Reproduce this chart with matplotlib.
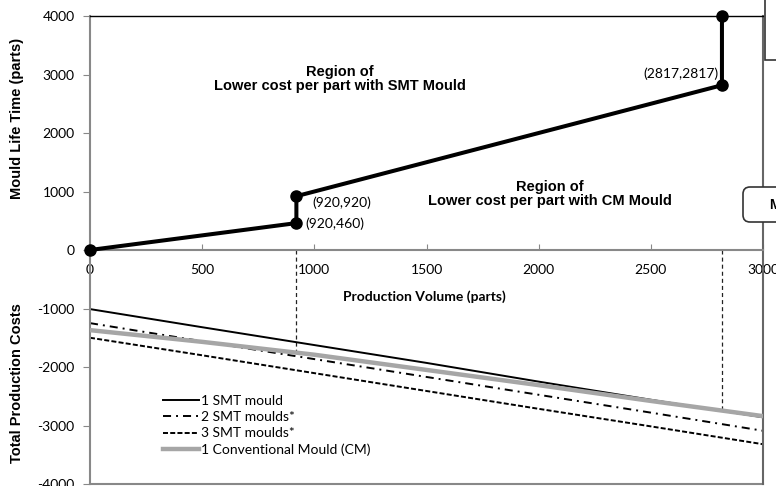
import numpy as np
import matplotlib
matplotlib.use("Agg")
import matplotlib.pyplot as plt
from matplotlib.patches import Rectangle, FancyBboxPatch
from matplotlib.transforms import IdentityTransform

plt.rcParams['lines.scale_dashes'] = False

# Mould life time boundary (top half)
life_x = [0, 920, 920, 2817, 2817]
life_y = [0, 460, 920, 2817, 4000]
point_labels = ["(920,460)", "(920,920)", "(2817,2817)"]

# Total production costs (bottom half, plotted as negatives)
cost_x = [0, 500, 1000, 1500, 2000, 2500, 3000]
smt1 = [-1010, -1320, -1625, -1930, -2250, -2560, -2860]
smt2 = [-1250, -1560, -1865, -2170, -2475, -2780, -3090]
smt3 = [-1500, -1800, -2105, -2410, -2715, -3015, -3320]
cm1 = [-1370, -1570, -1790, -2050, -2310, -2580, -2840]
series_labels = ["1 SMT mould", "2 SMT moulds*", "3 SMT moulds*",
                 "1 Conventional Mould (CM)"]

x_ticks = [0, 500, 1000, 1500, 2000, 2500, 3000]
y_ticks = [4000, 3000, 2000, 1000, 0, -1000, -2000, -3000, -4000]
break_x = [920, 2817]

calibri = "Lato"
arial = "Liberation Sans"

fig = plt.figure(figsize=(7.76, 4.86), dpi=100)
ax = fig.add_axes([90 / 776, 2 / 486, 673 / 776, 468 / 486])
ax.set_xlim(0, 3000)
ax.set_ylim(-4000, 4000)

# cost curves
ax.plot(cost_x, cm1, color="#a6a6a6", lw=3.2, label=series_labels[3], zorder=3)
ax.plot(cost_x, smt1, color="black", lw=1.4, label=series_labels[0], zorder=2)
ax.plot(cost_x, smt2, color="black", lw=1.4, dashes=(5.8, 3.6, 1.4, 3.6),
        label=series_labels[1], zorder=2)
ax.plot(cost_x, smt3, color="black", lw=1.4, dashes=(3.6, 1.6),
        label=series_labels[2], zorder=2)

# dashed drop lines from the axis to the CM curve
for bx in break_x:
    ax.plot([bx, bx], [0, np.interp(bx, cost_x, cm1)], color="#222222",
            lw=0.9, dashes=(2.9, 2.2), zorder=1)

# boundary line
ax.plot(life_x, life_y, color="black", lw=2.9, marker="o", markersize=8,
        clip_on=False, zorder=5)

ax.text(958, 444, point_labels[0], fontsize=10, family=calibri, va="center")
ax.text(990, 800, point_labels[1], fontsize=10, family=calibri, va="center")
ax.text(2800, 3010, point_labels[2], fontsize=10, family=calibri,
        va="center", ha="right")

ax.text(1115, 2920, "Region of\nLower cost per part with SMT Mould",
        fontsize=10.5, family=arial, fontweight="bold", ha="center",
        va="center", linespacing=1.05)
ax.text(2051, 960, "Region of\nLower cost per part with CM Mould",
        fontsize=10.5, family=arial, fontweight="bold", ha="center",
        va="center", linespacing=1.05)

# axes styling
for s in ["left", "right", "bottom"]:
    ax.spines[s].set_color("#888888")
    ax.spines[s].set_linewidth(1.5)
ax.spines["top"].set_color("black")
ax.spines["top"].set_linewidth(1.0)
ax.spines["right"].set_color("#666666")
ax.spines["bottom"].set_position(("data", 0))
ax.axhline(-4000, color="#888888", lw=1.5, clip_on=False)

ax.set_xticks(x_ticks)
ax.set_xticklabels([str(v) for v in x_ticks], family=calibri, fontsize=10)
ax.set_yticks(y_ticks)
ax.set_yticklabels([str(v) for v in y_ticks], family=calibri, fontsize=10)
ax.tick_params(axis="x", direction="in", length=4, color="#888888", pad=10)
ax.tick_params(axis="y", direction="out", length=5, color="#888888", pad=6)

ax.text(0.497, 0.40, "Production Volume (parts)", transform=ax.transAxes,
        family=calibri, fontweight="bold", fontsize=10, ha="center",
        va="center")
fig.text(17 / 776, 1 - 118 / 486, "Mould Life Time (parts)", rotation=90,
         family=arial, fontweight="bold", fontsize=10.5, ha="center",
         va="center")
fig.text(17 / 776, 1 - 383 / 486, "Total Production Costs", rotation=90,
         family=arial, fontweight="bold", fontsize=10.5, ha="center",
         va="center")

handles, labels = ax.get_legend_handles_labels()
order = [1, 2, 3, 0]
ax.legend([handles[i] for i in order], [labels[i] for i in order],
          loc="upper left", bbox_to_anchor=(0.108, 0.19), frameon=False,
          borderpad=0, borderaxespad=0, handlelength=2.6, handletextpad=0.15,
          labelspacing=0.3, prop={"family": calibri, "size": 10})

# partially visible boxes at the right edge
fig.add_artist(Rectangle((765 / 776, 1 - 60 / 486), 0.1, 0.2,
                         transform=fig.transFigure, facecolor="white",
                         edgecolor="#333333", lw=1.2))
fig.add_artist(FancyBboxPatch((743, 486 - 222), 70, 35,
                              boxstyle="round,pad=0,rounding_size=7",
                              transform=IdentityTransform(), facecolor="white",
                              edgecolor="#333333", lw=1.2))
fig.text(769 / 776, 1 - 205 / 486, "M", family=arial, fontweight="bold",
         fontsize=10, va="center")

fig.savefig("out.png", dpi=100)
